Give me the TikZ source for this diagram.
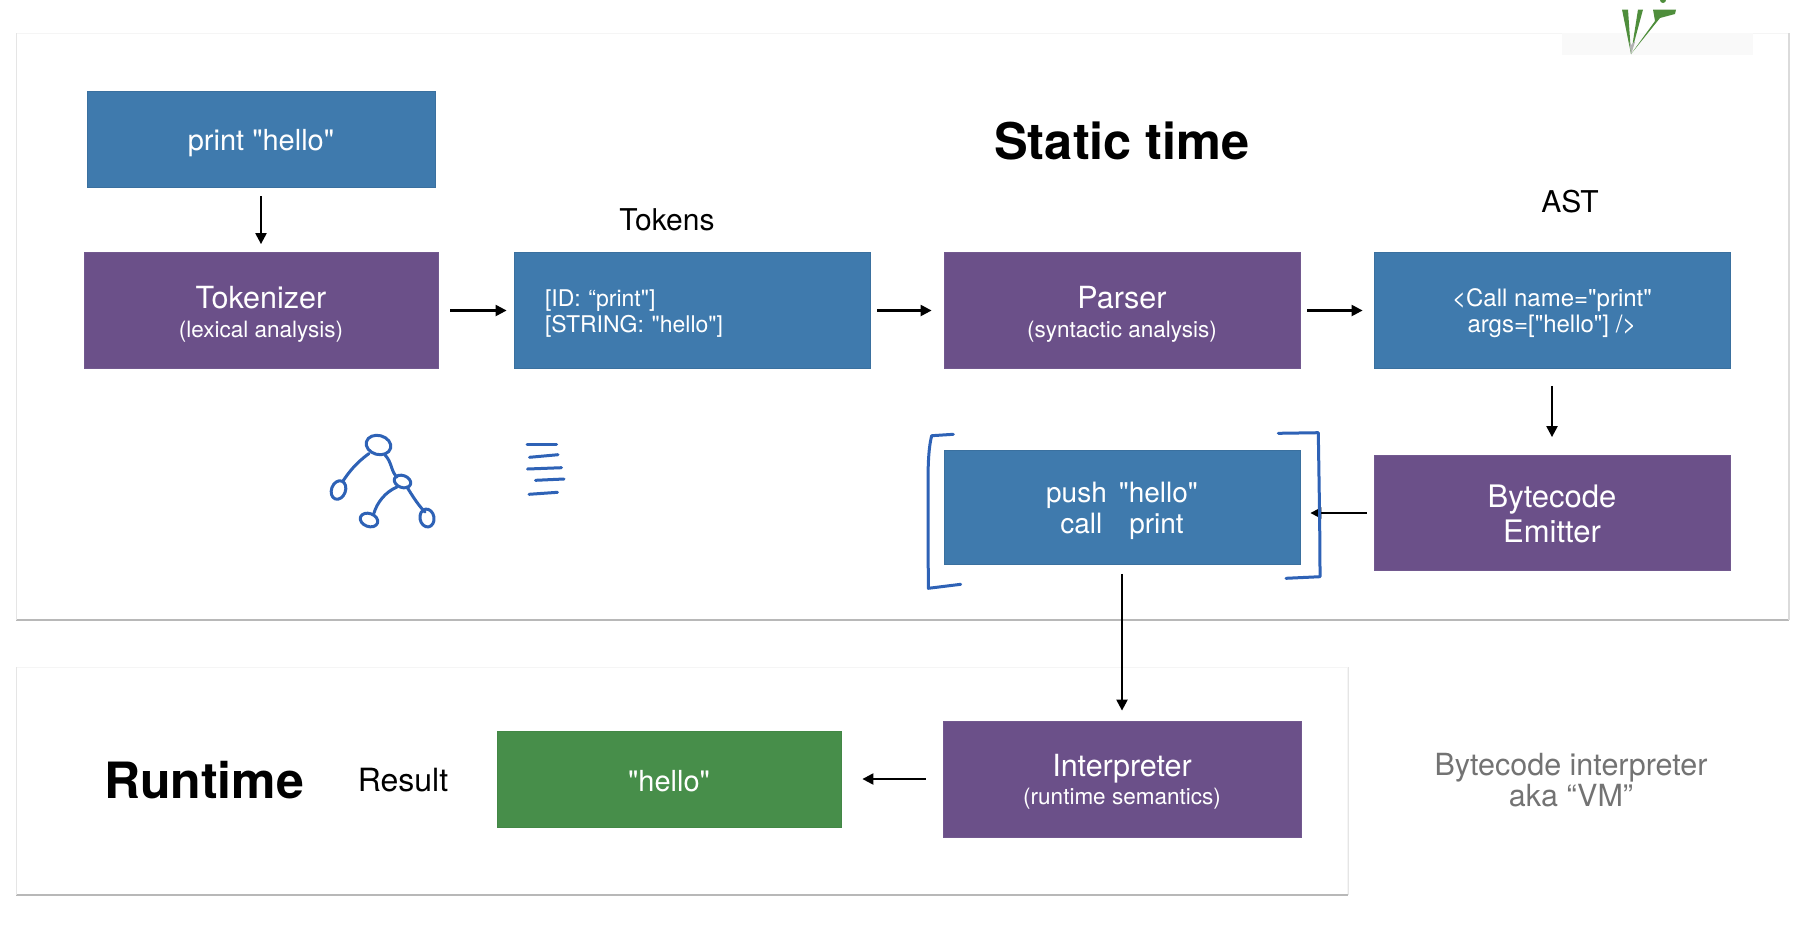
\documentclass[tikz,border=0pt]{standalone}
\usepackage{fontspec}
\setmainfont{TeX Gyre Heros}[Ligatures=TeXOff]
\usetikzlibrary{arrows.meta,calc}
\definecolor{boxblue}{HTML}{3F7AAD}
\definecolor{boxpurple}{HTML}{6B5089}
\definecolor{boxgreen}{HTML}{478E4A}
\definecolor{pen}{HTML}{2E62B6}
\definecolor{leaf}{HTML}{4F8E3C}
\newcommand{\fsz}[2]{\fontsize{#1}{#2}\selectfont}
\newcommand{\lift}[1]{\rule{0pt}{#1pt}}
\tikzset{
  panel/.style={draw=black!4,fill=white,line width=1pt,inner sep=0pt},
  panelshade/.style={draw=black!28,line width=2pt},
  card/.style={inner sep=0pt,text=white,align=center,line width=0.8pt},
  bluecard/.style={card,fill=boxblue,draw=boxblue!92!black},
  purplecard/.style={card,fill=boxpurple,draw=boxpurple!95!white},
  greencard/.style={card,fill=boxgreen,draw=boxgreen!95!black},
  flow/.style={draw=black,line width=2.2pt,-{Triangle[length=11pt,width=11pt]}},
  ink/.style={draw=pen,line width=3pt,line cap=round,line join=round},
  caption/.style={inner sep=0pt,text=black,font=\fsz{30}{30}},
  heading/.style={inner sep=0pt,text=black,font=\fsz{50.5}{50}\bfseries},
}
\begin{document}
\begin{tikzpicture}[x=1pt,y=-1pt]
\useasboundingbox (0,0) rectangle (1815,930);
% panels
\node[panel,minimum width=1772pt,minimum height=586pt,anchor=north west] (staticpanel) at (16,33) {};
\draw[panelshade] (staticpanel.south west) -- (staticpanel.south east);
\draw[draw=black!14,line width=1.5pt] (staticpanel.north east) -- (staticpanel.south east);
\draw[draw=black!10,line width=1pt] (staticpanel.north west) -- (staticpanel.south west);
\node[panel,minimum width=1331pt,minimum height=227pt,anchor=north west] (runpanel) at (16,667) {};
\draw[panelshade] (runpanel.south west) -- (runpanel.south east);
\draw[draw=black!10,line width=1pt] (runpanel.north east) -- (runpanel.south east);
\draw[draw=black!10,line width=1pt] (runpanel.north west) -- (runpanel.south west);
% logo
\fill[black!2.5] (1562,33) rectangle (1753,55);
\fill[leaf] (1622,9.5) -- (1628,9.5) -- (1631,54) -- cycle;
\fill[leaf] (1638,9.5) -- (1643,9.5) -- (1631,54) -- cycle;
\fill[leaf] (1631,54) -- (1655,21) -- (1653,9.5) -- (1676,9.5) -- (1675,14) -- (1660,18) -- cycle;
\fill[leaf] (1663,0) circle (3);
\fill[black!30] (1631,54) -- (1629.5,42) -- (1631,45) -- (1634,42) -- (1635,42) -- cycle;
% cards
\node[bluecard,minimum width=348pt,minimum height=96pt,font=\fsz{29}{32}] (source) at (261,139) {\lift{29}print "hello"};
\node[purplecard,minimum width=354pt,minimum height=116pt,font=\fsz{22.5}{28.5}] (tokenizer) at (261,310.5) {{\fsz{30.5}{28.5}\lift{30}Tokenizer}\\(lexical analysis)};
\node[bluecard,minimum width=356pt,minimum height=116pt,font=\fsz{23}{26.5},text width=294pt,align=left] (tokens) at (692,310.5) {\lift{23}[ID: “print"]\\{}[STRING: "hello"]};
\node[purplecard,minimum width=356pt,minimum height=116pt,font=\fsz{22.5}{28.5}] (parser) at (1122,310.5) {{\fsz{30.5}{28.5}\lift{30}Parser}\\(syntactic analysis)};
\node[bluecard,minimum width=356pt,minimum height=116pt,font=\fsz{24}{26.5}] (ast) at (1552,310.5) {\lift{23.5}<Call name="print"\\args=["hello"] />};
\node[purplecard,minimum width=356pt,minimum height=115pt,font=\fsz{31}{35}] (emitter) at (1552,513) {\lift{24.5}Bytecode\\Emitter};
\node[bluecard,minimum width=356pt,minimum height=114pt,font=\fsz{28}{31.5}] (bytecode) at (1122,507.5) {\lift{27.5}push\hspace*{12pt}"hello"\\call\hspace*{27pt}print};
\node[purplecard,minimum width=358pt,minimum height=116pt,font=\fsz{22.5}{28.5}] (interpreter) at (1122,779) {{\fsz{30.5}{28.5}\lift{28}Interpreter}\\(runtime semantics)};
\node[greencard,minimum width=344pt,minimum height=96pt,font=\fsz{29}{32}] (result) at (669,779.5) {\lift{23.5}"hello"};
% captions
\node[heading] (statictitle) at (1122,140.5) {Static time};
\node[heading,font=\fsz{50}{50}\bfseries] (runtitle) at (204,780) {Runtime};
\node[caption] (tokcap) at (667,220) {Tokens};
\node[caption] (astcap) at (1570,202) {AST};
\node[caption,font=\fsz{32}{32}] (rescap) at (403,780) {Result};
\node[caption,text=black!55,align=center,font=\fsz{30.5}{31}] (vmcap) at (1571,780) {Bytecode interpreter\\aka “VM”};
% connectors
\draw[flow,shorten <=9pt,shorten >=8pt] (source) -- (tokenizer);
\draw[flow,shorten <=12pt,shorten >=7pt] (tokenizer) -- (tokens);
\draw[flow,shorten <=7pt,shorten >=12pt] (tokens) -- (parser);
\draw[flow,shorten <=7pt,shorten >=11pt] (parser) -- (ast);
\draw[flow,shorten <=17pt,shorten >=18pt] (ast) -- (emitter);
\draw[flow,shorten <=7pt,shorten >=10pt] (emitter.west) -- (emitter.west -| bytecode.east);
\draw[flow,shorten <=9pt,shorten >=10pt] (bytecode) -- (interpreter);
\draw[flow,shorten <=17pt,shorten >=21pt] (interpreter.west) -- (interpreter.west -| result.east);
% hand-drawn marks
\draw[ink] (953.3,434.3) -- (931.7,435.7) .. controls (928,450) and (928,470) .. (928,490) -- (928.3,588.3) -- (960.7,584.3);
\draw[ink] (1278.3,433.3) -- (1318.3,432.7) .. controls (1319,480) and (1320,530) .. (1320,576.7) -- (1286,578.3);
\draw[ink,rotate around={-15:(378.5,445)}] (378.5,445) ellipse (12.5 and 9.5);
\draw[ink,rotate around={-20:(338.5,490)}] (338.5,490) ellipse (7 and 9.5);
\draw[ink,rotate around={-20:(402.5,481.5)}] (402.5,481.5) ellipse (8.5 and 6);
\draw[ink,rotate around={-20:(369,520)}] (369,520) ellipse (9 and 6.5);
\draw[ink,rotate around={10:(427,518)}] (427,518) ellipse (7 and 9);
\draw[ink] (369,453.5) .. controls (356,463) and (349,472) .. (343,481);
\draw[ink] (385,455) .. controls (392,462) and (391,472) .. (397,477);
\draw[ink] (397,487) .. controls (385,492) and (377,503) .. (374,513);
\draw[ink] (407,487) .. controls (413,497) and (419,506) .. (425,512);
\draw[ink] (527,444.3) -- (556.5,444.3);
\draw[ink] (529.5,457.3) -- (558,454.7);
\draw[ink] (527.5,469) -- (561.5,467.7);
\draw[ink] (535.5,480.3) -- (564,479);
\draw[ink] (529,494.3) -- (557.5,492.3);
\end{tikzpicture}
\end{document}
